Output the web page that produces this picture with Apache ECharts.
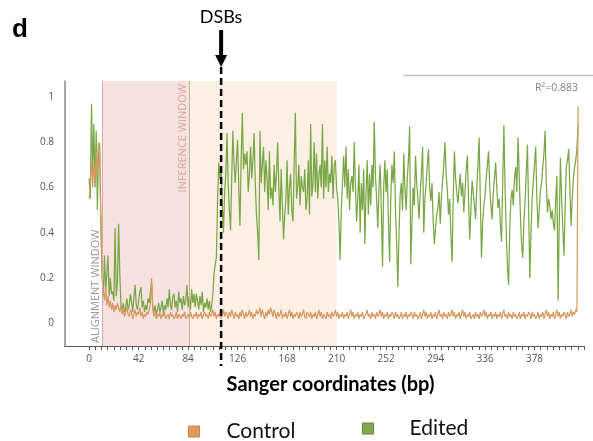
<!DOCTYPE html>
<html>
<head>
<meta charset="utf-8">
<script src="https://cdn.jsdelivr.net/npm/echarts@6/dist/echarts.min.js"></script>
<style>
  html, body { margin: 0; padding: 0; background: #fff; }
  #chart { width: 593px; height: 441px; }
</style>
</head>
<body>
<div id="chart"></div>
<script>
// Per-base relative discordance along the Sanger trace (index = bp)
const edited = [
  0.64, 0.55, 0.97, 0.66, 0.88, 0.60, 0.85, 0.50, 0.80, 0.78, 0.45, 0.22,
  0.12, 0.30, 0.14, 0.22, 0.30, 0.12, 0.20, 0.13, 0.14, 0.10, 0.42, 0.12, 0.18, 0.44, 0.22, 0.08,
  0.06, 0.09, 0.05, 0.07, 0.11, 0.06, 0.08, 0.13, 0.09, 0.05,
  0.12, 0.17, 0.08, 0.06, 0.10, 0.14, 0.16, 0.07, 0.10, 0.05,
  0.08, 0.06, 0.11, 0.09, 0.14, 0.18, 0.07, 0.05, 0.08, 0.04,
  0.06, 0.09, 0.05, 0.07, 0.10, 0.04, 0.08, 0.06, 0.11, 0.07,
  0.15, 0.08, 0.06, 0.12, 0.13, 0.07, 0.10, 0.05, 0.14, 0.09,
  0.11, 0.06, 0.12, 0.08, 0.10, 0.17, 0.07, 0.12, 0.06, 0.15,
  0.09, 0.13, 0.07, 0.13, 0.10, 0.06, 0.12, 0.08, 0.14, 0.05,
  0.09, 0.07, 0.11, 0.06, 0.10, 0.05,
  0.08, 0.13, 0.22, 0.26, 0.29, 0.55, 0.71, 0.64,
  0.68, 0.52, 0.40, 0.58, 0.66, 0.84, 0.62, 0.50, 0.41, 0.64,
  0.85, 0.70, 0.62, 0.72, 0.81, 0.60, 0.43, 0.72, 0.93, 0.68,
  0.75, 0.70, 0.76, 0.58, 0.66, 0.78, 0.64, 0.72, 0.84, 0.62,
  0.48, 0.40, 0.28, 0.85, 0.62, 0.70, 0.78, 0.58, 0.72, 0.64,
  0.50, 0.76, 0.55, 0.60, 0.52, 0.70, 0.58, 0.66, 0.80, 0.60,
  0.45, 0.68, 0.52, 0.37, 0.48, 0.55, 0.72, 0.48, 0.60, 0.66,
  0.50, 0.45, 0.70, 0.93, 0.55, 0.60, 0.70, 0.52, 0.65, 0.60,
  0.58, 0.68, 0.50, 0.55, 0.72, 0.48, 0.88, 0.56, 0.62, 0.80,
  0.58, 0.75, 0.55, 0.65, 0.70, 0.60, 0.88, 0.55, 0.72, 0.60,
  0.78, 0.58, 0.66, 0.62, 0.74, 0.55, 0.70, 0.72, 0.60, 0.55,
  0.45, 0.28, 0.50, 0.62, 0.74, 0.60, 0.78, 0.55, 0.68, 0.50,
  0.62, 0.65, 0.58, 0.80, 0.60, 0.45, 0.55, 0.70, 0.40, 0.62,
  0.50, 0.68, 0.35, 0.58, 0.72, 0.48, 0.66, 0.52, 0.70, 0.60,
  0.89, 0.65, 0.55, 0.42, 0.60, 0.70, 0.50, 0.25, 0.60, 0.72,
  0.58, 0.68, 0.45, 0.27, 0.55, 0.70, 0.62, 0.76, 0.50, 0.35,
  0.16, 0.40, 0.57, 0.62, 0.50, 0.75, 0.60, 0.50, 0.64, 0.72,
  0.87, 0.26, 0.45, 0.60, 0.52, 0.74, 0.62, 0.55, 0.46, 0.58,
  0.66, 0.78, 0.40, 0.55, 0.62, 0.70, 0.77, 0.60, 0.54, 0.62,
  0.45, 0.35, 0.42, 0.48, 0.51, 0.58, 0.44, 0.56, 0.63, 0.70,
  0.80, 0.66, 0.59, 0.48, 0.55, 0.40, 0.27, 0.55, 0.76, 0.64,
  0.58, 0.53, 0.60, 0.66, 0.56, 0.62, 0.49, 0.58, 0.68, 0.74,
  0.55, 0.37, 0.50, 0.63, 0.58, 0.52, 0.46, 0.60, 0.70, 0.82,
  0.55, 0.29, 0.45, 0.52, 0.56, 0.64, 0.70, 0.76, 0.60, 0.52,
  0.46, 0.58, 0.64, 0.71, 0.60, 0.51, 0.55, 0.44, 0.36, 0.62,
  0.875, 0.60, 0.40, 0.25, 0.17, 0.42, 0.55, 0.59, 0.52, 0.64,
  0.69, 0.58, 0.82, 0.66, 0.48, 0.35, 0.29, 0.45, 0.54, 0.66,
  0.79, 0.50, 0.20, 0.40, 0.55, 0.63, 0.70, 0.78, 0.55, 0.42,
  0.50, 0.59, 0.62, 0.69, 0.75, 0.85, 0.62, 0.49, 0.55, 0.52,
  0.46, 0.50, 0.44, 0.41, 0.55, 0.65, 0.10, 0.45, 0.73, 0.55,
  0.42, 0.30, 0.52, 0.69, 0.72, 0.77, 0.60, 0.43, 0.55, 0.64,
  0.69, 0.72, 0.77, 0.88
];

const control = [
  0.55, 0.62, 0.72, 0.60, 0.70, 0.62, 0.76, 0.66, 0.80, 0.74, 0.42, 0.20,
  0.14, 0.10, 0.16, 0.08, 0.12, 0.07, 0.10, 0.06, 0.09, 0.05, 0.08, 0.06, 0.09, 0.07, 0.05, 0.08,
  0.04, 0.06, 0.03, 0.05, 0.07, 0.04, 0.03, 0.06, 0.05, 0.02,
  0.04, 0.06, 0.03, 0.05, 0.04, 0.07, 0.03, 0.05, 0.02, 0.04,
  0.03, 0.05, 0.04, 0.06, 0.09, 0.20, 0.06, 0.03, 0.05, 0.02,
  0.04, 0.03, 0.05, 0.02, 0.04, 0.03, 0.05, 0.02, 0.03, 0.04,
  0.02, 0.05, 0.03, 0.04, 0.02, 0.03, 0.05, 0.02, 0.04, 0.03,
  0.02, 0.04, 0.03, 0.05, 0.02, 0.03, 0.04, 0.02, 0.05, 0.03,
  0.02, 0.04, 0.03, 0.05, 0.02, 0.04, 0.03, 0.05, 0.02, 0.04,
  0.05, 0.03, 0.04, 0.02, 0.05, 0.03, 0.04, 0.06, 0.03, 0.05,
  0.02, 0.04, 0.03, 0.05, 0.02, 0.04, 0.06, 0.03, 0.05, 0.04,
  0.02, 0.05, 0.03, 0.06, 0.04, 0.02, 0.05, 0.03, 0.04, 0.02,
  0.05, 0.03, 0.06, 0.04, 0.02, 0.05, 0.03, 0.04, 0.06, 0.03,
  0.05, 0.02, 0.04, 0.03, 0.06, 0.04, 0.05, 0.07, 0.03, 0.06,
  0.04, 0.02, 0.05, 0.03, 0.06, 0.04, 0.07, 0.05, 0.03, 0.06,
  0.04, 0.02, 0.05, 0.03, 0.04, 0.06, 0.02, 0.04, 0.03, 0.05,
  0.02, 0.04, 0.06, 0.03, 0.05, 0.02, 0.04, 0.03, 0.05, 0.04,
  0.02, 0.05, 0.03, 0.04, 0.06, 0.03, 0.02, 0.05, 0.04, 0.03,
  0.05, 0.02, 0.04, 0.03, 0.05, 0.02, 0.04, 0.06, 0.03, 0.05,
  0.02, 0.04, 0.03, 0.02, 0.05, 0.03, 0.04, 0.02, 0.05, 0.03,
  0.04, 0.06, 0.03, 0.05, 0.02, 0.04, 0.03, 0.05, 0.02, 0.04,
  0.03, 0.05, 0.02, 0.04, 0.06, 0.03, 0.05, 0.02, 0.04, 0.03,
  0.05, 0.02, 0.04, 0.03, 0.05, 0.02, 0.03, 0.04, 0.06, 0.03,
  0.04, 0.02, 0.05, 0.03, 0.04, 0.02, 0.05, 0.03, 0.04, 0.06,
  0.03, 0.05, 0.02, 0.04, 0.03, 0.05, 0.02, 0.04, 0.03, 0.05,
  0.04, 0.02, 0.05, 0.03, 0.04, 0.02, 0.03, 0.05, 0.02, 0.04,
  0.03, 0.05, 0.02, 0.04, 0.03, 0.05, 0.04, 0.02, 0.05, 0.03,
  0.04, 0.02, 0.03, 0.05, 0.02, 0.04, 0.06, 0.03, 0.05, 0.02,
  0.04, 0.03, 0.05, 0.02, 0.04, 0.03, 0.05, 0.02, 0.04, 0.06,
  0.03, 0.04, 0.02, 0.05, 0.03, 0.04, 0.02, 0.05, 0.03, 0.04,
  0.06, 0.03, 0.05, 0.02, 0.04, 0.03, 0.05, 0.02, 0.04, 0.06,
  0.03, 0.05, 0.02, 0.04, 0.03, 0.05, 0.02, 0.03, 0.04, 0.02,
  0.05, 0.03, 0.04, 0.02, 0.05, 0.03, 0.04, 0.06, 0.03, 0.05,
  0.02, 0.04, 0.03, 0.05, 0.02, 0.04, 0.03, 0.05, 0.02, 0.04,
  0.03, 0.05, 0.02, 0.04, 0.06, 0.03, 0.04, 0.02, 0.05, 0.03,
  0.04, 0.02, 0.05, 0.03, 0.04, 0.02, 0.03, 0.05, 0.02, 0.04,
  0.03, 0.05, 0.02, 0.04, 0.03, 0.05, 0.04, 0.02, 0.05, 0.03,
  0.04, 0.02, 0.03, 0.05, 0.02, 0.04, 0.03, 0.05, 0.02, 0.04,
  0.06, 0.03, 0.05, 0.02, 0.04, 0.03, 0.05, 0.02, 0.04, 0.06,
  0.03, 0.05, 0.02, 0.04, 0.03, 0.05, 0.04, 0.02, 0.05, 0.03,
  0.04, 0.06, 0.03, 0.05, 0.04, 0.06, 0.05, 0.96
];

const xTickLabels = [0, 42, 84, 126, 168, 210, 252, 294, 336, 378];
const yTickLabels = [0, 0.2, 0.4, 0.6, 0.8, 1];
const alignmentWindow = [11.3, 85];
const inferenceWindow = [85, 210];
const dsbPosition = 112;
const rSquared = 0.883;

// Layout of the plotting area
const X_MIN = -20.5, X_MAX = 420;
const Y_MIN = -0.1, Y_MAX = 1.07;
const G = { left: 65, top: 81, width: 519, height: 265 };
const pxPerBp = G.width / (X_MAX - X_MIN);
const tickLeft = G.left + (0 - X_MIN) * pxPerBp;

const chart = echarts.init(document.getElementById('chart'));

const tickFont = { fontFamily: 'Open Sans', fontSize: 10, color: '#555' };

chart.setOption({
  animation: false,
  backgroundColor: '#fff',
  textStyle: { fontFamily: 'Lato' },
  grid: [
    { left: G.left, top: G.top, width: G.width, height: G.height },
    // tick ruler starting at base 0
    { left: tickLeft, top: G.top, width: X_MAX * pxPerBp, height: G.height }
  ],
  xAxis: [
    {
      type: 'value', gridIndex: 0, min: X_MIN, max: X_MAX,
      axisLine: { show: true, onZero: false, lineStyle: { color: '#555', width: 1.2 } },
      axisTick: { show: false }, axisLabel: { show: false }, splitLine: { show: false },
      name: 'Sanger coordinates (bp)', nameLocation: 'middle', nameGap: 29,
      nameTextStyle: { fontFamily: 'Lato', fontWeight: 'bold', fontSize: 20, color: '#000', padding: [0, 0, 0, 12] }
    },
    {
      type: 'value', gridIndex: 1, min: 0, max: X_MAX, interval: 5.25,
      axisLine: { show: false, onZero: false },
      axisTick: { show: true, length: 4, lineStyle: { color: '#555', width: 1 } },
      axisLabel: Object.assign({
        margin: 8,
        formatter: v => {
          const r = Math.round(v);
          return (Math.abs(v - r) < 0.01 && xTickLabels.indexOf(r) >= 0) ? String(r) : '';
        }
      }, tickFont),
      splitLine: { show: false }
    }
  ],
  yAxis: [
    {
      type: 'value', gridIndex: 0, min: Y_MIN, max: Y_MAX, interval: 0.1,
      axisLine: { show: true, onZero: false, lineStyle: { color: '#888', width: 1.5 } },
      axisTick: { show: false }, splitLine: { show: false },
      axisLabel: Object.assign({
        margin: 11,
        formatter: v => {
          const r = Math.round(v * 10) / 10;
          return yTickLabels.indexOf(r) >= 0 ? String(r) : '';
        }
      }, tickFont)
    },
    { type: 'value', gridIndex: 1, min: 0, max: 1, show: false }
  ],
  legend: [
    {
      data: ['Control'], left: 188, top: 421, padding: 0, icon: 'rect',
      itemWidth: 11, itemHeight: 11,
      itemStyle: { color: '#e09a5e', borderColor: '#c4874e', borderWidth: 1 },
      textStyle: { fontFamily: 'Lato', fontSize: 21, color: '#111', padding: [0, 0, 0, 22] }
    },
    {
      data: ['Edited'], left: 362, top: 418, padding: 0, icon: 'rect',
      itemWidth: 11, itemHeight: 11,
      itemStyle: { color: '#82ab50', borderColor: '#5e8a33', borderWidth: 1 },
      textStyle: { fontFamily: 'Lato', fontSize: 21, color: '#111', padding: [0, 0, 0, 31] }
    }
  ],
  series: [
    {
      // analysis windows
      type: 'line', xAxisIndex: 0, yAxisIndex: 0, data: [], z: 1, silent: true,
      markArea: {
        silent: true,
        data: [
          [{ xAxis: alignmentWindow[0], itemStyle: { color: '#f8e1e1' } }, { xAxis: alignmentWindow[1] }],
          [{ xAxis: inferenceWindow[0], itemStyle: { color: '#fcf0e4' } }, { xAxis: inferenceWindow[1] }]
        ]
      },
      markLine: {
        silent: true, symbol: 'none',
        data: [
          {
            xAxis: alignmentWindow[0],
            lineStyle: { color: '#d4a9a9', width: 1, type: 'solid' },
            label: { show: true, position: 'insideStartTop', formatter: 'ALIGNMENT WINDOW',
                     fontFamily: 'Open Sans', fontSize: 11, color: '#a89292', distance: [3, 1] }
          },
          {
            xAxis: inferenceWindow[0],
            lineStyle: { color: '#cdae95', width: 1, type: 'solid' },
            label: { show: true, position: 'insideEndTop', formatter: 'INFERENCE WINDOW',
                     fontFamily: 'Open Sans', fontSize: 11, color: '#cfad92', distance: [3, 1] }
          }
        ]
      }
    },
    {
      name: 'Edited', type: 'line', xAxisIndex: 0, yAxisIndex: 0, z: 2,
      data: edited.map((v, i) => [i, v]), showSymbol: false, symbol: 'none',
      lineStyle: { color: '#7aa746', width: 1.25 }, itemStyle: { color: '#7aa746' }
    },
    {
      name: 'Control', type: 'line', xAxisIndex: 0, yAxisIndex: 0, z: 3,
      data: control.map((v, i) => [i, v]), showSymbol: false, symbol: 'none',
      lineStyle: { color: '#d6985f', width: 1.2 }, itemStyle: { color: '#d6985f' }
    }
  ]
});

// Cut-site marker and annotations
const dsbX = chart.convertToPixel({ xAxisIndex: 0, yAxisIndex: 0 }, [dsbPosition, 0])[0];
chart.setOption({
  graphic: [
    { type: 'text', x: 12, y: 17, style: { text: 'd', font: 'bold 26px "Liberation Sans"', fill: '#000' } },
    { type: 'text', x: dsbX, y: 17, style: { text: 'DSBs', font: '18px Lato', fill: '#000', align: 'center', verticalAlign: 'middle' } },
    { type: 'line', shape: { x1: dsbX, y1: 30, x2: dsbX, y2: 57 }, style: { stroke: '#000', lineWidth: 4 } },
    { type: 'polygon', shape: { points: [[dsbX - 6, 55], [dsbX + 6, 55], [dsbX, 67]] }, style: { fill: '#000' } },
    { type: 'line', z: 10, shape: { x1: dsbX, y1: 67, x2: dsbX, y2: 366 }, style: { stroke: '#000', lineWidth: 2.5, lineDash: [7, 4] } },
    { type: 'line', shape: { x1: 403, y1: 75.5, x2: 593, y2: 75.5 }, style: { stroke: '#c4c4c4', lineWidth: 1.5 } },
    { type: 'text', x: 578, y: 88, style: { text: 'R²=' + rSquared, font: '10.5px "Open Sans"', fill: '#808080', align: 'right', verticalAlign: 'middle' } }
  ]
});
</script>
</body>
</html>
